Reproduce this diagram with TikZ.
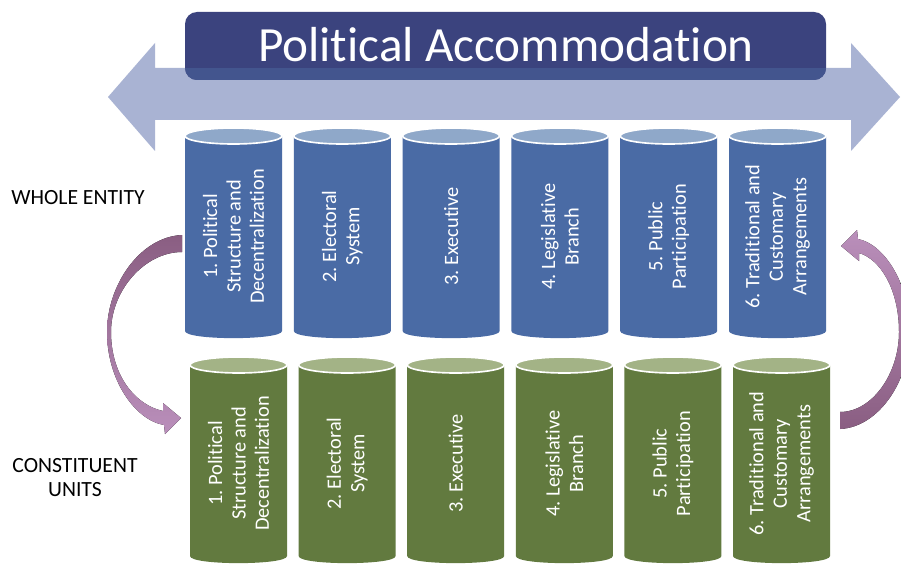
\documentclass[tikz,border=0pt]{standalone}
\usepackage{fontspec}
\setmainfont[Ligatures=NoCommon]{Carlito}
\frenchspacing
\definecolor{titlebox}{HTML}{3B437E}
\definecolor{titleband}{HTML}{43558E}
\definecolor{bandarrow}{HTML}{A9B3D3}
\definecolor{bluebody}{HTML}{4A6BA5}
\definecolor{bluetop}{HTML}{8FA8C9}
\definecolor{greenbody}{HTML}{627A3F}
\definecolor{greentop}{HTML}{A3B386}
\definecolor{mauvedark}{HTML}{8A5E82}
\definecolor{mauvelight}{HTML}{BA8FBB}

\tikzset{
  cyltext/.style={rotate=90, align=center, text=white,
    font=\fontsize{17.4}{20}\selectfont},
  sidelabel/.style={align=center, text=black,
    font=\fontsize{18.5}{20.5}\selectfont},
  titletext/.style={text=white, font=\fontsize{42}{48}\selectfont},
}

% #1 name, #2 centre x, #3 top y, #4 bottom y, #5 body colour, #6 lid colour, #7 text
\newcommand\drumcyl[7]{%
  \fill[#5] (#2-48.5,#3) -- (#2-48.5,#4)
    .. controls (#2-48.5,#4+9.5) and (#2+48.5,#4+9.5) .. (#2+48.5,#4)
    -- (#2+48.5,#3) -- cycle;
  \filldraw[fill=#6, draw=white, line width=1.4pt]
    (#2,#3) ellipse [x radius=48.5, y radius=8];
  \node[cyltext] (#1) at (#2,{(#3+#4)/2+3}) {#7};
}

\begin{document}
\begin{tikzpicture}[x=0.03cm, y=-0.03cm]
\useasboundingbox (0,0) rectangle (901,565);
\clip (0,0) rectangle (901,565);
\fill[white] (0,0) rectangle (901,565);

% wide double arrow behind the title
\fill[bandarrow] (108,97) -- (155,43) -- (155,68) -- (851,68) -- (851,43)
  -- (900,97) -- (851,151) -- (851,120) -- (155,120) -- (155,151) -- cycle;

% title box, lighter where the arrow band crosses it
\fill[titlebox, rounded corners=0.36cm] (185,12) rectangle (826,80);
\begin{scope}
  \clip[rounded corners=0.36cm] (185,12) rectangle (826,80);
  \fill[titleband] (180,68) rectangle (830,85);
\end{scope}
\node[titletext] (title) at (506,45) {Political Accommodation};

% whole entity row
\drumcyl{b1}{233.5}{136}{331}{bluebody}{bluetop}{1. Political\\Structure and\\Decentralization}
\drumcyl{b2}{342.3}{136}{331}{bluebody}{bluetop}{2. Electoral\\System}
\drumcyl{b3}{451.1}{136}{331}{bluebody}{bluetop}{3. Executive}
\drumcyl{b4}{559.9}{136}{331}{bluebody}{bluetop}{4. Legislative\\Branch}
\drumcyl{b5}{668.7}{136}{331}{bluebody}{bluetop}{5. Public\\Participation}
\drumcyl{b6}{777.5}{136}{331}{bluebody}{bluetop}{6. Traditional and\\Customary\\Arrangements}

% constituent units row
\drumcyl{g1}{238.5}{365}{556}{greenbody}{greentop}{1. Political\\Structure and\\Decentralization}
\drumcyl{g2}{347.1}{365}{556}{greenbody}{greentop}{2. Electoral\\System}
\drumcyl{g3}{455.7}{365}{556}{greenbody}{greentop}{3. Executive}
\drumcyl{g4}{564.3}{365}{556}{greenbody}{greentop}{4. Legislative\\Branch}
\drumcyl{g5}{672.9}{365}{556}{greenbody}{greentop}{5. Public\\Participation}
\drumcyl{g6}{781.5}{365}{556}{greenbody}{greentop}{6. Traditional and\\Customary\\Arrangements}

% row labels
\node[sidelabel] (whole) at (78,198) {WHOLE ENTITY};
\node[sidelabel] (units) at (75,478) {CONSTITUENT\\UNITS};

% curved arrow down, on the left
\fill[top color=mauvedark, bottom color=mauvelight]
  (182,235) .. controls (140,237) and (107,285) .. (107,332)
  .. controls (107,380) and (135,420) .. (164,425)
  -- (165,434) -- (181,418) -- (163,403) -- (163,411)
  .. controls (135,405) and (111,375) .. (111,332)
  .. controls (111,290) and (145,252) .. (182,252) -- cycle;

% curved arrow up, on the right
\fill[top color=mauvelight, bottom color=mauvedark]
  (840,429) .. controls (880,427) and (910,379) .. (910,332)
  .. controls (910,284) and (884,244) .. (858,239)
  -- (857,230) -- (841,246) -- (859,261) -- (859,253)
  .. controls (880,259) and (899,289) .. (899,332)
  .. controls (899,374) and (872,412) .. (840,412) -- cycle;
\end{tikzpicture}
\end{document}
